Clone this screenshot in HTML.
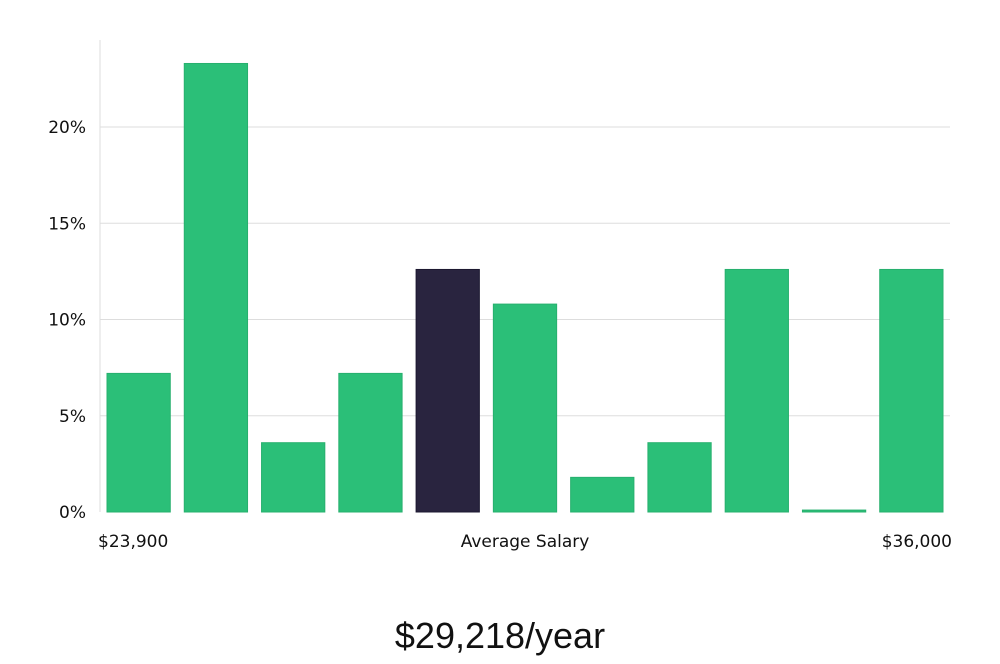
<!DOCTYPE html>
<html><head><meta charset="utf-8"><style>
body{margin:0;background:#fff;width:1000px;height:660px;overflow:hidden;font-family:"DejaVu Sans","Liberation Sans",sans-serif;}
</style></head><body>
<svg width="1000" height="660" id="chart">
<g id="grid"></g><g id="bars"></g><g id="labels"></g>
<line x1="100" y1="40" x2="100" y2="512" stroke="#ddd" stroke-width="1"/>
<text x="98" y="547" font-size="17" fill="#111">$23,900</text>
<text x="525" y="547" font-size="17" fill="#111" text-anchor="middle">Average Salary</text>
<text x="952" y="547" font-size="17" fill="#111" text-anchor="end">$36,000</text>
<text x="500" y="648" font-size="36" fill="#111" text-anchor="middle" font-family="Liberation Sans, sans-serif">$29,218/year</text>
</svg>
<script>
const categories=["b1","b2","b3","b4","b5","b6","b7","b8","b9","b10","b11"];
const values=[7.2,23.3,3.6,7.2,12.6,10.8,1.8,3.6,12.6,0.1,12.6];
const highlight=[false,false,false,false,true,false,false,false,false,false,false];
const ticks=[0,5,10,15,20];
const tickLabels=["0%","5%","10%","15%","20%"];
const NS="http://www.w3.org/2000/svg";
const x0=100,x1=950,yBase=512,pxPerPct=19.25;
const y=v=>yBase-v*pxPerPct;
const band=(x1-x0)/categories.length;
const g=document.getElementById('grid'),b=document.getElementById('bars'),l=document.getElementById('labels');
ticks.forEach((t,i)=>{
 if(t>0){const ln=document.createElementNS(NS,'line');
 ln.setAttribute('x1',x0);ln.setAttribute('x2',x1);ln.setAttribute('y1',y(t));ln.setAttribute('y2',y(t));
 ln.setAttribute('stroke','#ddd');
 
 
 g.appendChild(ln);}
 const tx=document.createElementNS(NS,'text');
 tx.setAttribute('x',86);tx.setAttribute('y',y(t)+6);tx.setAttribute('text-anchor','end');
 tx.setAttribute('font-size','17');tx.setAttribute('fill','#111');tx.textContent=tickLabels[i];
 
 
 l.appendChild(tx);
});
values.forEach((v,i)=>{
 const r=document.createElementNS(NS,'rect');
 const h=Math.max(v*pxPerPct,1.5);
 r.setAttribute('x',x0+i*band+7);r.setAttribute('width',band-14);
 r.setAttribute('y',yBase-h);r.setAttribute('height',h);
 r.setAttribute('fill',highlight[i]?'#29243f':'#2bbf78');
 r.setAttribute('stroke',highlight[i]?'#1c1830':'#27b06e');
 
 
 b.appendChild(r);
});
</script>
</body></html>
